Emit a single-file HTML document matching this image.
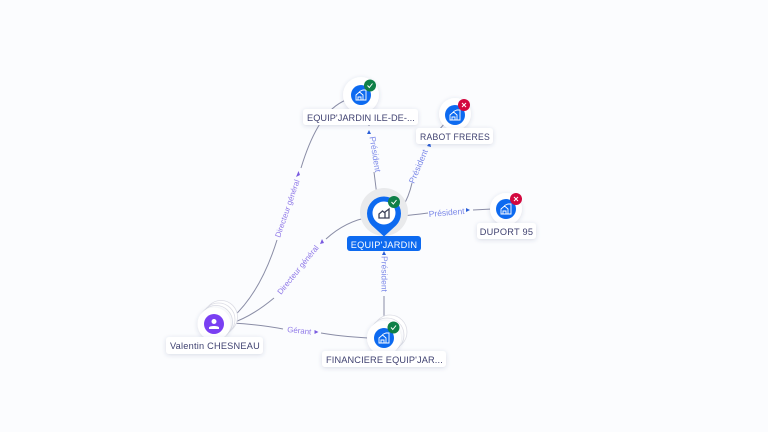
<!DOCTYPE html>
<html><head><meta charset="utf-8"><style>
html,body{margin:0;padding:0;background:#fbfcfe;width:768px;height:432px;overflow:hidden}
svg{display:block}
text{font-family:"Liberation Sans",sans-serif}
.e{fill:none;stroke:#8a8da6;stroke-width:1}
.l{font-size:8.5px;fill:#7b88e8}
.g{font-size:7.900px;fill:#8f78e8}
.n{font-size:9.2px;fill:#3f4170;text-anchor:middle;letter-spacing:.25px}
.ic{fill:none;stroke:#fff;stroke-width:.9}
.st{fill:#fff;stroke:#dcdde5;stroke-width:.8}
</style></head><body>
<svg width="768" height="432" viewBox="0 0 768 432" xmlns="http://www.w3.org/2000/svg">
<defs>
<filter id="s" x="-30%" y="-40%" width="160%" height="190%"><feDropShadow dx="0" dy="1" stdDeviation="2" flood-color="#3c4678" flood-opacity=".18"/></filter>
<g id="h"><path class="ic" d="M-5 5V0L-1.500 -3 2 0V5H-5ZM-3 5V2H0V5M-1.500 -3.500 2 -5 5 -5V5H2"/></g>
<g id="ok"><circle r="6" fill="#0f8048"/><path d="M-2.500 0 -.7 2 2.500 -2" fill="none" stroke="#fff" stroke-width="1"/></g>
<g id="no"><circle r="6" fill="#d3083f"/><path d="M-2 -2 2 2M2 -2 -2 2" fill="none" stroke="#fff" stroke-width="1"/></g>
</defs>
<!-- edges -->
<path class="e" d="M232 318C252 300 267 272 277 240"/>
<path class="e" d="M301 168C312 132 326 108 346 100"/>
<path class="e" d="M232 323C247 318 262 308 274 298"/>
<path class="e" d="M326 239C338 228 352 220 370 217"/>
<path class="e" d="M232 323C250 324 268 326 283 329"/>
<path class="e" d="M321 333C338 336 352 337 368 338"/>
<path class="e" d="M384 296V322" stroke-width="1.200"/>
<path class="e" d="M377 196 374 172"/>
<path class="e" d="M369 126 369 118"/>
<path class="e" d="M402 208C407 200 410 192 412 183"/>
<path class="e" d="M438 131 446 122"/>
<path class="e" d="M401 216C412 215 420 214 428 213"/>
<path class="e" d="M473 210 492 209"/>
<!-- edge labels -->
<text class="g" transform="translate(280 238) rotate(-71)">Directeur général</text>
<path d="M296 177 300 175 298.500 171Z" fill="#7a5be0"/>
<text class="g" transform="translate(281 295) rotate(-51)">Directeur général</text>
<path d="M320 244 324 243 322 239Z" fill="#7a5be0"/>
<text class="g" transform="translate(287 332) rotate(6)">Gérant</text>
<path d="M314.500 330 318.500 332 314.500 334Z" fill="#7a5be0"/>
<text class="l" transform="translate(381.500 256) rotate(90)">Président</text>
<path d="M382 255 384 251 386 255Z" fill="#2b5fd8"/>
<text class="l" transform="translate(369.500 137) rotate(81)">Président</text>
<path d="M367 134 369 130 371 134Z" fill="#2b5fd8"/>
<text class="l" transform="translate(414 184) rotate(-67)">Président</text>
<path d="M427 146 430 142 431 147Z" fill="#2b5fd8"/>
<text class="l" transform="translate(429 217) rotate(-5)">Président</text>
<path d="M466 208 470 210 466 212Z" fill="#2b5fd8"/>
<!-- ILE-DE -->
<circle cx="361" cy="95" r="18" fill="#fff" filter="url(#s)"/>
<circle cx="361" cy="95" r="10" fill="#0d6af0"/>
<use href="#h" x="361" y="95"/>
<use href="#ok" x="370" y="85.500"/>
<rect x="303" y="109" width="115" height="16" rx="3" fill="#fff" filter="url(#s)"/>
<text class="n" x="361" y="121" textLength="108" lengthAdjust="spacing">EQUIP'JARDIN ILE-DE-...</text>
<!-- RABOT -->
<circle cx="455" cy="114" r="16" fill="#fff" filter="url(#s)"/>
<circle cx="455" cy="115" r="10" fill="#0d6af0"/>
<use href="#h" x="455" y="115"/>
<use href="#no" x="464" y="105"/>
<rect x="416" y="128" width="77" height="16" rx="3" fill="#fff" filter="url(#s)"/>
<text class="n" x="455" y="140" textLength="70" lengthAdjust="spacingAndGlyphs">RABOT FRERES</text>
<!-- DUPORT -->
<circle cx="506" cy="209" r="16" fill="#fff" filter="url(#s)"/>
<circle cx="506" cy="209" r="10" fill="#0d6af0"/>
<use href="#h" x="506" y="209"/>
<use href="#no" x="516" y="199"/>
<rect x="477" y="223" width="59" height="16" rx="3" fill="#fff" filter="url(#s)"/>
<text class="n" x="506.500" y="235">DUPORT 95</text>
<!-- center -->
<circle cx="384" cy="212" r="24" fill="#e9eaec"/>
<path d="M384 236.500 372 225.500A17 17 0 1 1 396 225.500Z" fill="#0d6af0"/>
<circle cx="384" cy="213" r="11.500" fill="#fff"/>
<path d="M379 218V214L382.500 211 385 213V218ZM385 212 389 209V218H385Z" fill="none" stroke="#3d4258" stroke-width="1.300"/>
<use href="#ok" x="394" y="202"/>
<rect x="347" y="236" width="74" height="15" rx="3" fill="#0d6af0"/>
<text class="n" x="384" y="248" style="fill:#fff">EQUIP'JARDIN</text>
<!-- Valentin -->
<circle cx="221" cy="317" r="16.500" class="st"/>
<circle cx="218.500" cy="319.500" r="16.500" class="st"/>
<circle cx="216" cy="322" r="16.500" class="st"/>
<circle cx="214" cy="324" r="16.500" fill="#fff" filter="url(#s)"/>
<circle cx="214" cy="324" r="10" fill="#7a3ff2"/>
<circle cx="214" cy="321.500" r="2.500" fill="#fff"/>
<path d="M209 329V327.500C209 325.500 219 325.500 219 327.500V329Z" fill="#fff"/>
<rect x="166" y="337" width="97" height="17" rx="3" fill="#fff" filter="url(#s)"/>
<text class="n" x="215" y="349" textLength="90" lengthAdjust="spacing">Valentin CHESNEAU</text>
<!-- FINANCIERE -->
<circle cx="390" cy="332" r="17" class="st"/>
<circle cx="387" cy="335" r="17" class="st"/>
<circle cx="384" cy="338" r="17" fill="#fff" filter="url(#s)"/>
<circle cx="384" cy="338" r="10" fill="#0d6af0"/>
<use href="#h" x="384" y="338"/>
<use href="#ok" x="393.500" y="327.500"/>
<rect x="322" y="351" width="124" height="16" rx="3" fill="#fff" filter="url(#s)"/>
<text class="n" x="384.500" y="363" textLength="117" lengthAdjust="spacing">FINANCIERE EQUIP'JAR...</text>
</svg>
</body></html>
